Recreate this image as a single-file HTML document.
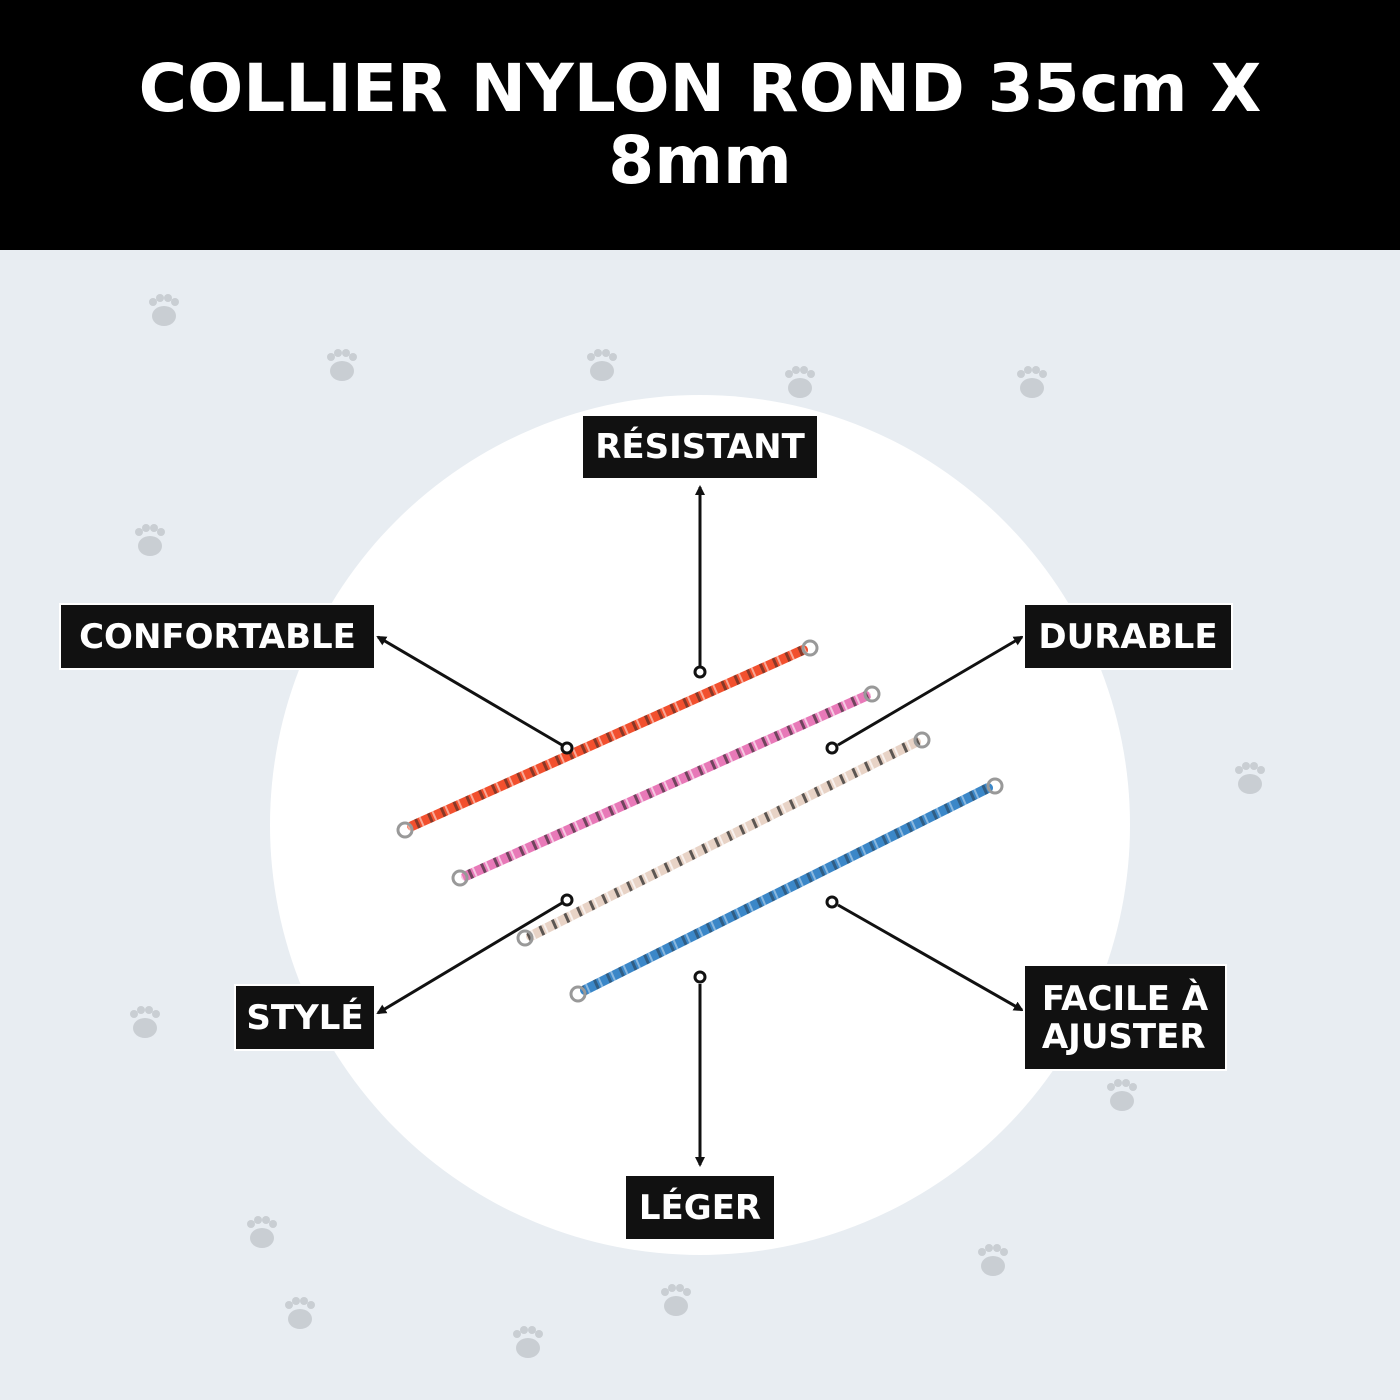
<!DOCTYPE html>
<html><head><meta charset="utf-8"><style>
body{margin:0;width:1400px;height:1400px;background:#e8edf2;position:relative;overflow:hidden;font-family:"DejaVu Sans","Liberation Sans",sans-serif}
.hdr{position:absolute;left:0;top:0;width:1400px;height:250px;background:#000;color:#fff;text-align:center;font-weight:bold;font-size:66px;line-height:72px;padding-top:53px;box-sizing:border-box}
.lab{position:absolute;background:#111;color:#fff;font-weight:bold;font-size:34px;border:2px solid #fff;box-sizing:border-box;display:flex;align-items:center;justify-content:center;line-height:38px;text-align:left}
svg{position:absolute;left:0;top:0}
</style></head><body>
<div class="hdr">COLLIER NYLON ROND 35cm X<br>8mm</div>
<svg width="1400" height="1400">
<defs>
<marker id="a" markerWidth="10" markerHeight="10" refX="8" refY="5" orient="auto" markerUnits="userSpaceOnUse"><path d="M0,0 L10,5 L0,10z" fill="#111"/></marker>
<pattern id="pl" width="14" height="10" patternUnits="userSpaceOnUse" patternTransform="rotate(-24)">
<rect x="3" width="3" height="10" fill="#222"/><rect x="8" width="2" height="10" fill="#fff"/></pattern>
<g id="paw" fill="#c9ced3"><ellipse cx="0" cy="6" rx="12" ry="10"/><circle cx="-11" cy="-8" r="4"/><circle cx="-4" cy="-12" r="4"/><circle cx="4" cy="-12" r="4"/><circle cx="11" cy="-8" r="4"/></g>
</defs>
<use href="#paw" x="164" y="310"/><use href="#paw" x="342" y="365"/><use href="#paw" x="602" y="365"/><use href="#paw" x="800" y="382"/><use href="#paw" x="1032" y="382"/><use href="#paw" x="150" y="540"/><use href="#paw" x="1250" y="778"/><use href="#paw" x="145" y="1022"/><use href="#paw" x="1122" y="1095"/><use href="#paw" x="262" y="1232"/><use href="#paw" x="993" y="1260"/><use href="#paw" x="300" y="1313"/><use href="#paw" x="676" y="1300"/><use href="#paw" x="528" y="1342"/>
<circle cx="700" cy="825" r="430" fill="#fff"/>
<g stroke-linecap="round">
<line x1="412" y1="826" x2="803" y2="650" stroke="#f2502e" stroke-width="10"/>
<line x1="412" y1="826" x2="803" y2="650" stroke="url(#pl)" stroke-width="10" opacity=".5"/>
<line x1="466" y1="876" x2="866" y2="696" stroke="#e879b8" stroke-width="10"/>
<line x1="466" y1="876" x2="866" y2="696" stroke="url(#pl)" stroke-width="10" opacity=".6"/>
<line x1="531" y1="936" x2="916" y2="742" stroke="#e8d3c6" stroke-width="10"/>
<line x1="531" y1="936" x2="916" y2="742" stroke="url(#pl)" stroke-width="10" opacity=".7"/>
<line x1="585" y1="990" x2="988" y2="788" stroke="#3b87c8" stroke-width="10"/>
<line x1="585" y1="990" x2="988" y2="788" stroke="url(#pl)" stroke-width="10" opacity=".4"/>
</g>
<g fill="none" stroke="#999" stroke-width="3">
<circle cx="405" cy="830" r="7"/><circle cx="810" cy="648" r="7"/><circle cx="460" cy="878" r="7"/><circle cx="872" cy="694" r="7"/><circle cx="525" cy="938" r="7"/><circle cx="922" cy="740" r="7"/><circle cx="578" cy="994" r="7"/><circle cx="995" cy="786" r="7"/>
</g>
<g stroke="#111" stroke-width="3" fill="none">
<line x1="700" y1="666" x2="700" y2="487" marker-end="url(#a)"/>
<line x1="562" y1="745" x2="378" y2="637" marker-end="url(#a)"/>
<line x1="838" y1="745" x2="1022" y2="637" marker-end="url(#a)"/>
<line x1="562" y1="903" x2="378" y2="1013" marker-end="url(#a)"/>
<line x1="838" y1="905" x2="1022" y2="1010" marker-end="url(#a)"/>
<line x1="700" y1="984" x2="700" y2="1165" marker-end="url(#a)"/>
</g>
<g stroke="#111" stroke-width="3" fill="#fff">
<circle cx="700" cy="672" r="5"/><circle cx="567" cy="748" r="5"/><circle cx="832" cy="748" r="5"/><circle cx="567" cy="900" r="5"/><circle cx="832" cy="902" r="5"/><circle cx="700" cy="977" r="5"/>
</g>
</svg>
<div class="lab" style="left:581px;top:414px;width:238px;height:66px">RÉSISTANT</div>
<div class="lab" style="left:59px;top:603px;width:317px;height:67px">CONFORTABLE</div>
<div class="lab" style="left:1023px;top:603px;width:210px;height:67px">DURABLE</div>
<div class="lab" style="left:234px;top:984px;width:142px;height:67px">STYLÉ</div>
<div class="lab" style="left:1023px;top:964px;width:204px;height:107px">FACILE À<br>AJUSTER</div>
<div class="lab" style="left:624px;top:1174px;width:152px;height:67px">LÉGER</div>
</body></html>
